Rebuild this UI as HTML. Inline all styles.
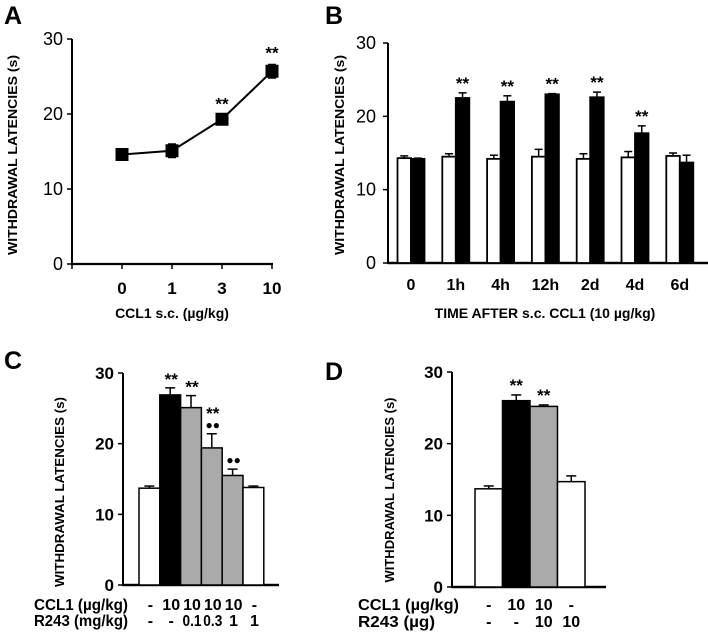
<!DOCTYPE html>
<html><head><meta charset="utf-8"><style>
html,body{margin:0;padding:0;background:#fff}
svg{display:block}
text{font-family:"Liberation Sans",Arial,sans-serif}
</style></head><body>
<svg id="fig" width="708" height="632" viewBox="0 0 708 632"></svg>
<script>
// Panel A data
const aDoses = ["0","1","3","10"];
const aMeans = [14.6, 15.1, 19.3, 25.7];
const aErrs = [0.4, 0.9, 0.5, 0.9];
const aStars = ["", "", "**", "**"];
// Panel B data
const bTimes = ["0","1h","4h","12h","2d","4d","6d"];
const bWhite = [14.3, 14.5, 14.2, 14.5, 14.2, 14.4, 14.6];
const bWhiteErr = [0.3, 0.4, 0.5, 1.0, 0.7, 0.8, 0.4];
const bBlack = [14.2, 22.5, 22.0, 23.0, 22.6, 17.7, 13.7];
const bBlackErr = [0.1, 0.7, 0.8, 0.1, 0.7, 1.0, 1.0];
const bStars = ["", "**", "**", "**", "**", "**", ""];
// Panel C data
const cMeans = [13.7, 26.9, 25.1, 19.4, 15.5, 13.8];
const cErrs = [0.3, 1.0, 1.7, 2.0, 0.9, 0.2];
const cFills = ["#fff","#000","#aaa","#aaa","#aaa","#fff"];
const cStars = ["", "**", "**", "**", "", ""];
const cDots = ["", "", "", "\u25CF\u25CF", "\u25CF\u25CF", ""];
const cCCL1 = ["-","10","10","10","10","-"];
const cR243 = ["-","-","0.1","0.3","1","1"];
// Panel D data
const dMeans = [13.7, 26.0, 25.2, 14.7];
const dErrs = [0.4, 0.8, 0.2, 0.8];
const dFills = ["#fff","#000","#aaa","#fff"];
const dStars = ["", "**", "**", ""];
const dCCL1 = ["-","10","10","-"];
const dR243 = ["-","-","10","10"];
const yTicks = [0,10,20,30];

const svg = document.getElementById('fig');
const NS = "http://www.w3.org/2000/svg";
function el(tag, attrs, parent){const e=document.createElementNS(NS,tag);for(const k in attrs)e.setAttribute(k,attrs[k]);(parent||svg).appendChild(e);return e;}
function txt(s, x, y, size, weight, anchor, parent){const t=el('text',{x:x,y:y,'font-size':size,'font-weight':weight,'text-anchor':anchor||'middle',fill:'#000'},parent);t.textContent=s;return t;}
function fit(t,len){t.setAttribute('textLength',len);t.setAttribute('lengthAdjust','spacingAndGlyphs');return t;}
function scale(y0px,y30px){return v=>y0px+(y30px-y0px)*v/30;}
function errBar(g,cx,yTop,yErr,hw){el('line',{x1:cx,y1:yTop,x2:cx,y2:yErr,stroke:'#000','stroke-width':1.5},g);el('line',{x1:cx-hw,y1:yErr,x2:cx+hw,y2:yErr,stroke:'#000','stroke-width':1.5},g);}
function yAxis(g,ax,y,x0,x1,tickSize,bold,labX){
  el('line',{x1:ax,y1:y(0),x2:ax,y2:y(30),stroke:'#000','stroke-width':2},g);
  el('line',{x1:ax-1,y1:y(0),x2:x1,y2:y(0),stroke:'#000','stroke-width':2.2},g);
  yTicks.forEach(v=>{el('line',{x1:ax-5,y1:y(v),x2:ax,y2:y(v),stroke:'#000','stroke-width':1.5},g);
    const t=txt(String(v),labX,y(v)+6,tickSize,bold,'end',g);});
}
function yTitle(g,x,cy,len){const t=txt('WITHDRAWAL  LATENCIES (s)',0,0,13,'bold','middle',g);fit(t,len);t.setAttribute('transform',`translate(${x},${cy}) rotate(-90)`);}
function panelLabel(s,x,y){const t=txt(s,x,y,25,'bold','start');}

panelLabel('A',4,24);panelLabel('B',325,24);panelLabel('C',4,369);panelLabel('D',325,380);

// ---- Panel A
(function(){
  const g=el('g',{});
  const y=scale(264,39);const ax=72;
  const x=i=>122+i*50;
  yAxis(g,ax,y,ax,273,18,'normal',63);
  aDoses.forEach((d,i)=>{el('line',{x1:x(i),y1:y(0),x2:x(i),y2:y(0)+5,stroke:'#000','stroke-width':1.5},g);txt(d,x(i),294,17,'bold','middle',g);});
  el('line',{x1:ax,y1:y(0),x2:ax,y2:y(0)+5,stroke:'#000','stroke-width':1.5},g);
  const pl=el('polyline',{points:aMeans.map((v,i)=>x(i)+','+y(v)).join(' '),fill:'none',stroke:'#000','stroke-width':2},g);
  
  aMeans.forEach((v,i)=>{
    errBar(g,x(i),y(v),y(v+aErrs[i]),4);errBar(g,x(i),y(v),y(v-aErrs[i]),4);
    const r=el('rect',{x:x(i)-6.5,y:y(v)-6.5,width:13,height:13,fill:'#000'},g);
    
    if(aStars[i])txt(aStars[i],x(i),y(v+aErrs[i])-6,17,'bold','middle',g);
  });
  const t=txt('CCL1 s.c. (\u00b5g/kg)',172,318,14,'bold','middle',g);
  yTitle(g,17,155,200);
})();

// ---- Panel B
(function(){
  const g=el('g',{});
  const y=scale(263,43);const ax=388;
  const cx=i=>411+i*44.8;const w=13.5;
  yAxis(g,ax,y,ax,708,18,'normal',376);
  el('line',{x1:ax,y1:y(0),x2:708,y2:y(0),stroke:'#000','stroke-width':2.2},g);
  bTimes.forEach((lab,i)=>{
    const r1=el('rect',{x:cx(i)-w,y:y(bWhite[i]),width:w,height:y(0)-y(bWhite[i]),fill:'#fff',stroke:'#000','stroke-width':1.8},g);
    
    errBar(g,cx(i)-w/2,y(bWhite[i]),y(bWhite[i]+bWhiteErr[i]),4);
    const r2=el('rect',{x:cx(i),y:y(bBlack[i]),width:w,height:y(0)-y(bBlack[i]),fill:'#000',stroke:'#000','stroke-width':1.8},g);
    
    errBar(g,cx(i)+w/2,y(bBlack[i]),y(bBlack[i]+bBlackErr[i]),4);
    if(bStars[i])txt(bStars[i],cx(i)+w/2,y(bBlack[i]+bBlackErr[i])-4,17,'bold','middle',g);
    txt(lab,cx(i),290,16,'bold','middle',g);
  });
  const t=txt('TIME AFTER s.c. CCL1 (10 \u00b5g/kg)',545,318,14,'bold','middle',g);
  yTitle(g,344,155,200);
})();

// ---- Panel C
(function(){
  const g=el('g',{});
  const y=scale(585,373);const ax=123;
  const x0=139,w=20.8;
  yAxis(g,ax,y,ax,279,17,'bold',114);
  el('line',{x1:ax,y1:y(0),x2:279,y2:y(0),stroke:'#000','stroke-width':2.2},g);
  cMeans.forEach((v,i)=>{
    const x=x0+i*w;
    const r=el('rect',{x:x,y:y(v),width:w,height:y(0)-y(v),fill:cFills[i],stroke:'#000','stroke-width':1.5},g);
    
    errBar(g,x+w/2,y(v),y(v+cErrs[i]),5);
    let top=y(v+cErrs[i])-5;
    if(cDots[i]){txt(cDots[i],x+w/2+1,top,12,'normal','middle',g);top-=12;}
    if(cStars[i])txt(cStars[i],x+w/2+1,top+2,17,'bold','middle',g);
    txt(cCCL1[i],x+w/2+1,610,16,'bold','middle',g);
    const r2=txt(cR243[i],x+w/2+1,626,16,'bold','middle',g);
    if(cR243[i].length>2)fit(r2,19);
  });
  fit(txt('CCL1 (\u00b5g/kg)',34,610,16,'bold','start',g),94);
  fit(txt('R243 (mg/kg)',34,626,16,'bold','start',g),94);
  yTitle(g,64,492,190);
})();

// ---- Panel D
(function(){
  const g=el('g',{});
  const y=scale(587,372);const ax=452;
  const x0=475,w=27.5;
  yAxis(g,ax,y,ax,606,17,'bold',443);
  el('line',{x1:ax,y1:y(0),x2:606,y2:y(0),stroke:'#000','stroke-width':2.2},g);
  dMeans.forEach((v,i)=>{
    const x=x0+i*w;
    const r=el('rect',{x:x,y:y(v),width:w,height:y(0)-y(v),fill:dFills[i],stroke:'#000','stroke-width':1.5},g);
    
    errBar(g,x+w/2,y(v),y(v+dErrs[i]),5);
    if(dStars[i])txt(dStars[i],x+w/2,y(v+dErrs[i])-4,17,'bold','middle',g);
    txt(dCCL1[i],x+w/2,610,16,'bold','middle',g);
    txt(dR243[i],x+w/2,627,16,'bold','middle',g);
  });
  fit(txt('CCL1 (\u00b5g/kg)',358,610,16,'bold','start',g),101);
  fit(txt('R243 (\u00b5g)',358,627,16,'bold','start',g),77);
  yTitle(g,394,490,185);
})();
</script>
</body></html>
